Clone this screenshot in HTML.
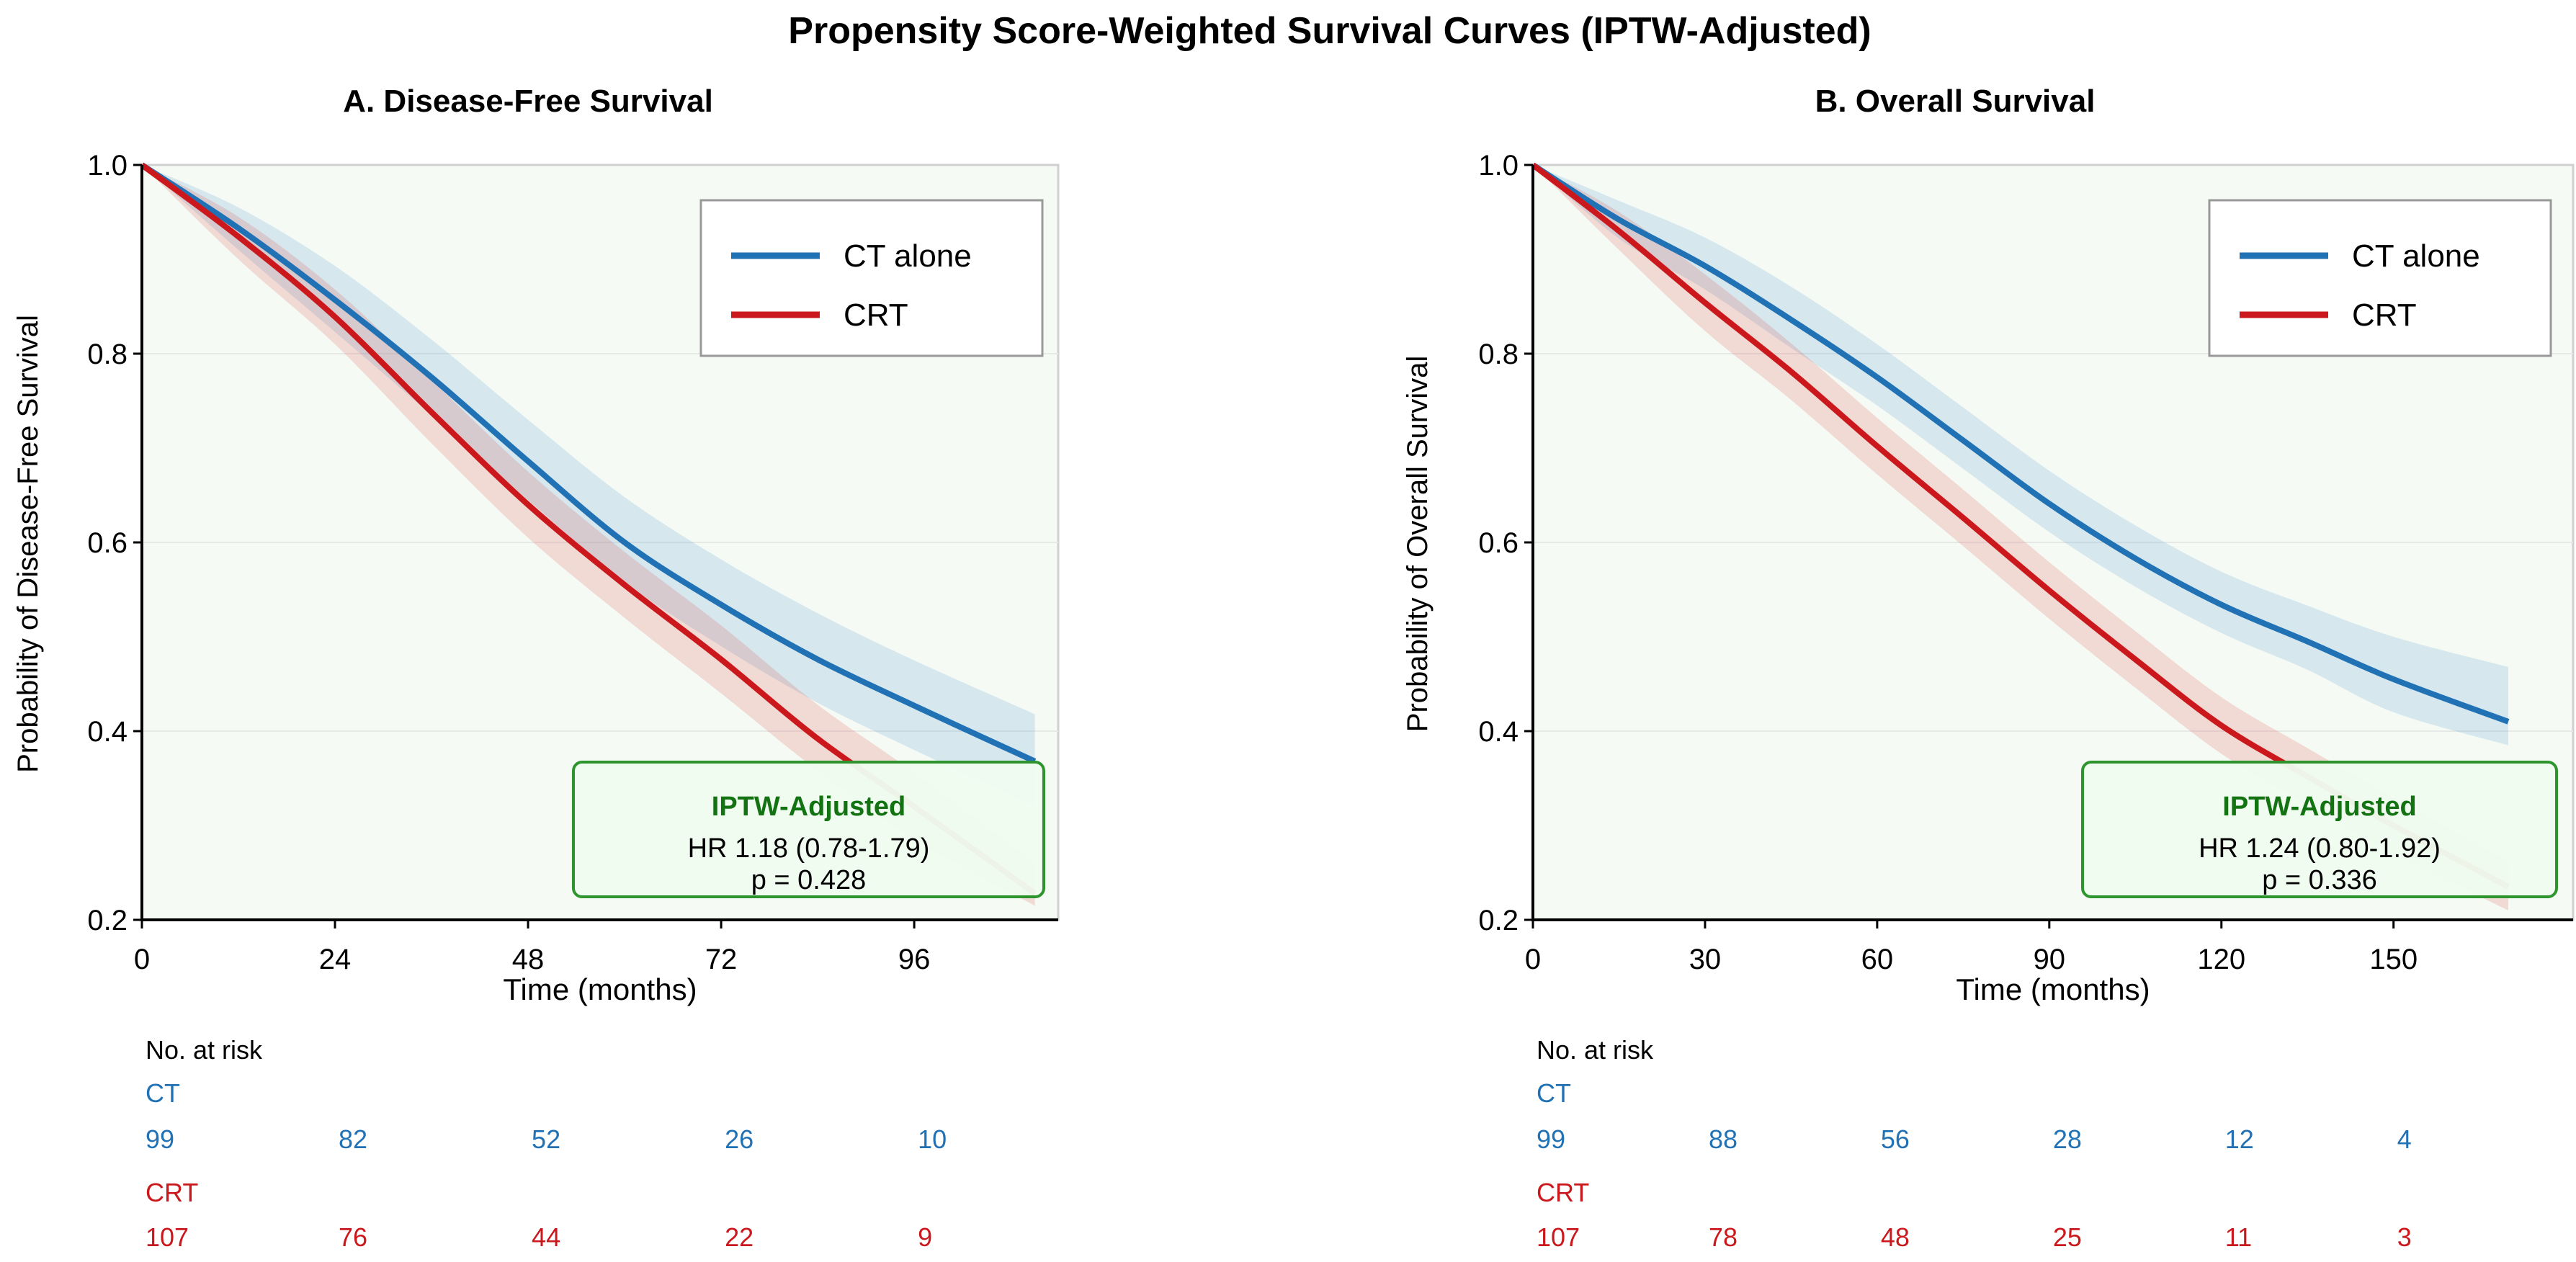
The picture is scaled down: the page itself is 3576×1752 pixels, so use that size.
<!DOCTYPE html>
<html><head><meta charset="utf-8"><style>
html,body{margin:0;padding:0;background:#fff;}
svg{display:block;font-family:"Liberation Sans",Arial,sans-serif;}
</style></head><body>
<svg id="chart" width="3576" height="1752" viewBox="0 0 3576 1752" xmlns="http://www.w3.org/2000/svg">
<text x="1846" y="60" text-anchor="middle" font-size="52" font-weight="bold">Propensity Score-Weighted Survival Curves (IPTW-Adjusted)</text>
<g id="panelA"></g>
<g id="panelB"></g>
</svg>
<script>
// Panel A data (DFS)
const aTimes = [0,12,24,36,48,60,72,84,96,111];
const aBlue = [1,0.933,0.857,0.775,0.686,0.60,0.534,0.476,0.427,0.368];
const aBlueUp = [1,0.955,0.893,0.815,0.73,0.648,0.582,0.525,0.475,0.418];
const aBlueLo = [1,0.91,0.823,0.735,0.645,0.558,0.49,0.43,0.38,0.32];
const aRed = [1,0.924,0.839,0.738,0.64,0.555,0.476,0.392,0.32,0.228];
const aRedUp = [1,0.945,0.868,0.772,0.675,0.59,0.512,0.428,0.356,0.26];
const aRedLo = [1,0.9,0.81,0.705,0.605,0.52,0.44,0.358,0.285,0.215];
const aXTicks = [0,24,48,72,96];
const aRiskCT = [99,82,52,26,10];
const aRiskCRT = [107,76,44,22,9];
// Panel B data (OS)
const bTimes = [0,15,30,45,60,75,90,105,120,135,150,170];
const bBlue = [1,0.942,0.893,0.836,0.775,0.708,0.641,0.583,0.534,0.495,0.455,0.41];
const bBlueUp = [1,0.962,0.923,0.871,0.81,0.743,0.676,0.618,0.569,0.533,0.5,0.468];
const bBlueLo = [1,0.922,0.868,0.806,0.745,0.678,0.611,0.553,0.504,0.465,0.42,0.385];
const bRed = [1,0.93,0.854,0.781,0.702,0.626,0.549,0.476,0.406,0.352,0.30,0.235];
const bRedUp = [1,0.95,0.884,0.811,0.732,0.656,0.579,0.506,0.436,0.382,0.33,0.262];
const bRedLo = [1,0.91,0.824,0.751,0.672,0.596,0.519,0.446,0.376,0.322,0.27,0.21];
const bXTicks = [0,30,60,90,120,150];
const bRiskCT = [99,88,56,28,12,4];
const bRiskCRT = [107,78,48,25,11,3];
const yTicks = [0.2,0.4,0.6,0.8,1.0];

const NS="http://www.w3.org/2000/svg";
function mk(parent,tag,attrs,text){const e=document.createElementNS(NS,tag);for(const k in attrs)e.setAttribute(k,attrs[k]);if(text!==undefined)e.textContent=text;parent.appendChild(e);return e;}
function smooth(pts){let d="M"+pts[0][0]+","+pts[0][1];for(let i=0;i<pts.length-1;i++){const p0=pts[Math.max(i-1,0)],p1=pts[i],p2=pts[i+1],p3=pts[Math.min(i+2,pts.length-1)];const c1x=p1[0]+(p2[0]-p0[0])/6,c1y=p1[1]+(p2[1]-p0[1])/6,c2x=p2[0]-(p3[0]-p1[0])/6,c2y=p2[1]-(p3[1]-p1[1])/6;d+=" C"+c1x+","+c1y+" "+c2x+","+c2y+" "+p2[0]+","+p2[1];}return d;}

function panel(g,cfg){
  const X0=cfg.x0,X1=cfg.x1,Y0=229,Y1=1277;
  const sx=t=>X0+(t/cfg.xmax)*(X1-X0);
  const sy=v=>Y1-(v-0.2)/0.8*(Y1-Y0);
  let e=mk(g,"rect",{x:X0,y:Y0,width:X1-X0,height:Y1-Y0,fill:"#f5faf4",stroke:"#d0d0d0","stroke-width":3});
  
  
  yTicks.forEach(v=>{
    if(v>0.2&&v<1){e=mk(g,"line",{x1:X0,x2:X1,y1:sy(v),y2:sy(v),stroke:"#e6e9e6","stroke-width":2});
    
    }
    e=mk(g,"line",{x1:X0-12,x2:X0,y1:sy(v),y2:sy(v),stroke:"#000","stroke-width":3});
    
    
    e=mk(g,"text",{x:X0-20,y:sy(v)+14,"text-anchor":"end","font-size":40},v.toFixed(1));
    
    
  });
  cfg.xticks.forEach(t=>{
    e=mk(g,"line",{x1:sx(t),x2:sx(t),y1:Y1,y2:Y1+12,stroke:"#000","stroke-width":3});
    
    
    e=mk(g,"text",{x:sx(t),y:Y1+68,"text-anchor":"middle","font-size":40},String(t));
    
    
  });
  function band(lo,up,col,name){
    const top=cfg.times.map((t,i)=>[sx(t),sy(up[i])]);
    const bot=cfg.times.map((t,i)=>[sx(t),sy(lo[i])]).reverse();
    let d=smooth(top)+" L"+bot[0][0]+","+bot[0][1]+smooth(bot).slice(smooth(bot).indexOf(" "))+" Z";
    const p=mk(g,"path",{d:d,fill:col,"fill-opacity":0.16,stroke:"none"});
    
    
  }
  function line(vals,col,name){
    const p=mk(g,"path",{d:smooth(cfg.times.map((t,i)=>[sx(t),sy(vals[i])])),fill:"none",stroke:col,"stroke-width":8,"stroke-linejoin":"round"});
    
    
  }
  band(cfg.blueLo,cfg.blueUp,"#3a8fd6","ct-alone-ci-band");
  band(cfg.redLo,cfg.redUp,"#e03030","crt-ci-band");
  line(cfg.blue,"#2171b5","ct-alone-curve");
  line(cfg.red,"#cb181d","crt-curve");
  e=mk(g,"line",{x1:X0,x2:X0,y1:Y0,y2:Y1+1,stroke:"#000","stroke-width":4});
  
  
  e=mk(g,"line",{x1:X0-2,x2:X1,y1:Y1,y2:Y1,stroke:"#000","stroke-width":4});
  
  
  // legend
  const L=mk(g,"g",{});
  
  
  mk(L,"rect",{x:cfg.legX,y:278,width:cfg.legW,height:216,fill:"#fff",stroke:"#999","stroke-width":3});
  e=mk(L,"line",{x1:cfg.legX+42,x2:cfg.legX+165,y1:355,y2:355,stroke:"#2171b5","stroke-width":9});
  
  
  mk(L,"text",{x:cfg.legX+198,y:370,"font-size":44},"CT alone");
  e=mk(L,"line",{x1:cfg.legX+42,x2:cfg.legX+165,y1:437,y2:437,stroke:"#cb181d","stroke-width":9});
  
  
  mk(L,"text",{x:cfg.legX+198,y:452,"font-size":44},"CRT");
  // stats box
  const B=mk(g,"g",{});
  
  
  mk(B,"rect",{x:cfg.boxX,y:1058,width:cfg.boxW,height:187,rx:12,fill:"#effcef","fill-opacity":0.96,stroke:"#2e952e","stroke-width":4});
  const cx=cfg.boxX+cfg.boxW/2;
  mk(B,"text",{x:cx,y:1132,"text-anchor":"middle","font-size":38,"font-weight":"bold",fill:"#137313"},"IPTW-Adjusted");
  mk(B,"text",{x:cx,y:1190,"text-anchor":"middle","font-size":38},cfg.hr);
  mk(B,"text",{x:cx,y:1234,"text-anchor":"middle","font-size":38},cfg.p);
  // titles
  e=mk(g,"text",{x:cfg.titleX,y:155,"text-anchor":"middle","font-size":44,"font-weight":"bold"},cfg.title);
  
  
  e=mk(g,"text",{x:(X0+X1)/2-cfg.xlabOff,y:1388,"text-anchor":"middle","font-size":42},"Time (months)");
  
  
  e=mk(g,"text",{x:0,y:0,"text-anchor":"middle","font-size":40,transform:"translate("+cfg.ylabX+",755) rotate(-90)"},cfg.ylab);
  
  
  // risk table
  const R=mk(g,"g",{});
  
  
  mk(R,"text",{x:X0+5,y:1470,"font-size":36},"No. at risk");
  mk(R,"text",{x:X0+5,y:1530,"font-size":36,fill:"#2171b5"},"CT");
  mk(R,"text",{x:X0+5,y:1668,"font-size":36,fill:"#cb181d"},"CRT");
  cfg.xticks.forEach((t,i)=>{
    if(i<cfg.riskCT.length){e=mk(R,"text",{x:sx(t)+5,y:1594,"font-size":36,fill:"#2171b5"},String(cfg.riskCT[i]));
    
    }
    if(i<cfg.riskCRT.length){e=mk(R,"text",{x:sx(t)+5,y:1730,"font-size":36,fill:"#cb181d"},String(cfg.riskCRT[i]));
    
    }
  });
}
panel(document.getElementById("panelA"),{x0:197,x1:1469,xmax:113.9,times:aTimes,blue:aBlue,blueUp:aBlueUp,blueLo:aBlueLo,red:aRed,redUp:aRedUp,redLo:aRedLo,xticks:aXTicks,riskCT:aRiskCT,riskCRT:aRiskCRT,legX:973,legW:474,boxX:796,boxW:653,hr:"HR 1.18 (0.78-1.79)",p:"p = 0.428",title:"A. Disease-Free Survival",titleX:733,ylab:"Probability of Disease-Free Survival",ylabX:52,xlabOff:0});
panel(document.getElementById("panelB"),{x0:2128,x1:3572,xmax:181.3,times:bTimes,blue:bBlue,blueUp:bBlueUp,blueLo:bBlueLo,red:bRed,redUp:bRedUp,redLo:bRedLo,xticks:bXTicks,riskCT:bRiskCT,riskCRT:bRiskCRT,legX:3067,legW:474,boxX:2891,boxW:658,hr:"HR 1.24 (0.80-1.92)",p:"p = 0.336",title:"B. Overall Survival",titleX:2714,ylab:"Probability of Overall Survival",ylabX:1981,xlabOff:0});
</script>
</body></html>
